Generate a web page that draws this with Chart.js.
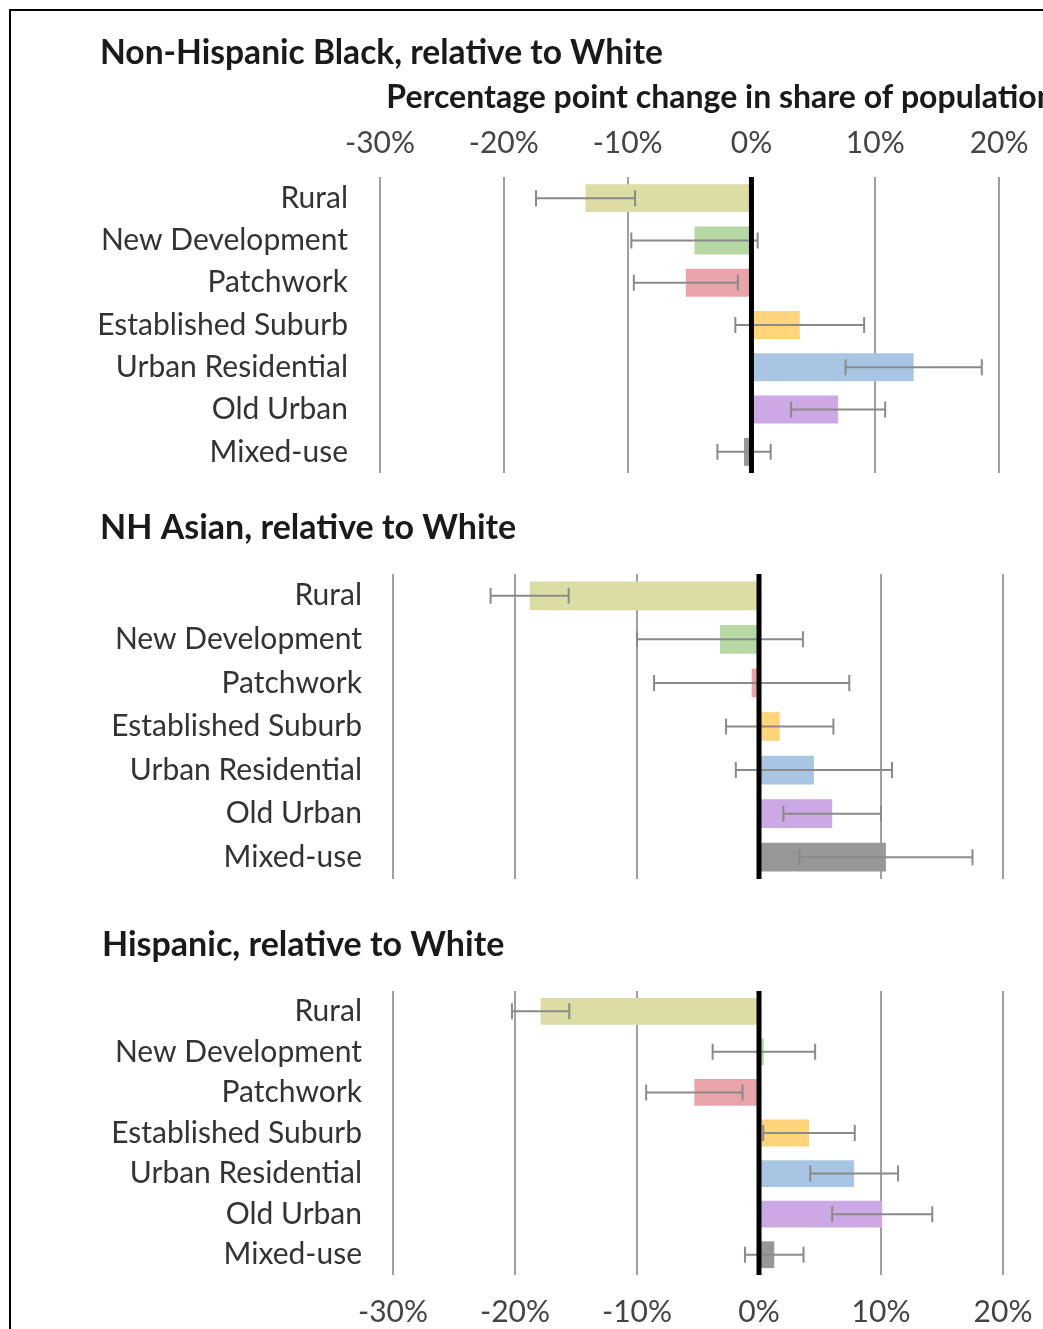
<!DOCTYPE html>
<html>
<head>
<meta charset="utf-8">
<script src="https://cdn.jsdelivr.net/npm/chart.js@4.4.1/dist/chart.umd.min.js"></script>
<style>
  html, body { margin: 0; padding: 0; background: #fff; overflow: hidden; width: 1043px; height: 1329px; }
  #frame { position: absolute; left: 9px; top: 9px; width: 1200px; height: 1400px;
           border-left: 2px solid #000; border-top: 2px solid #000; }
  .panel { position: absolute; left: 0; }
</style>
</head>
<body>
<div id="frame"></div>
<div class="panel" style="top:0; width:1061px; height:480px"><canvas id="chart-black"></canvas></div>
<div class="panel" style="top:480px; width:1064px; height:410px"><canvas id="chart-asian"></canvas></div>
<div class="panel" style="top:890px; width:1064px; height:459px"><canvas id="chart-hispanic"></canvas></div>
<script>
// neighbourhood types, top to bottom
const categories = ['Rural', 'New Development', 'Patchwork', 'Established Suburb',
  'Urban Residential', 'Old Urban', 'Mixed-use'];
const barColors = ['#dcdca5', '#b6d8a4', '#e8a4a8', '#ffd47a', '#a8c6e4', '#cca8e4', '#979797'];

// percentage point change, relative to White, and half-width of the error bars
const blackChange = [-13.4, -4.6, -5.3, 3.9, 13.1, 7.0, -0.6];
const blackErr = [4.0, 5.1, 4.2, 5.2, 5.5, 3.8, 2.15];
const asianChange = [-18.8, -3.2, -0.6, 1.7, 4.5, 6.0, 10.4];
const asianErr = [3.2, 6.8, 8.0, 4.4, 6.4, 4.0, 7.1];
const hispanicChange = [-17.9, 0.4, -5.3, 4.1, 7.8, 10.1, 1.25];
const hispanicErr = [2.35, 4.2, 3.95, 3.75, 3.6, 4.1, 2.4];

const xTicks = [-30, -20, -10, 0, 10, 20];

Chart.defaults.font.family = 'Lato';
Chart.defaults.color = '#444';

// error bars plus the heavy zero line, drawn over the bars
const errorBars = {
  id: 'errorBars',
  afterDatasetsDraw(chart, args, opts) {
    const { ctx, chartArea, scales: { x, y } } = chart;
    const values = chart.data.datasets[0].data;
    ctx.save();
    ctx.strokeStyle = '#8a8a8a';
    ctx.lineWidth = 2;
    values.forEach((v, i) => {
      const yc = y.getPixelForValue(i);
      const x1 = x.getPixelForValue(v - opts.errors[i]);
      const x2 = x.getPixelForValue(v + opts.errors[i]);
      ctx.beginPath();
      ctx.moveTo(x1, yc); ctx.lineTo(x2, yc);
      ctx.moveTo(x1, yc - 8); ctx.lineTo(x1, yc + 8);
      ctx.moveTo(x2, yc - 8); ctx.lineTo(x2, yc + 8);
      ctx.stroke();
    });
    const x0 = x.getPixelForValue(0);
    ctx.strokeStyle = '#000';
    ctx.lineWidth = 5;
    ctx.beginPath();
    ctx.moveTo(x0, chartArea.top);
    ctx.lineTo(x0, chartArea.bottom);
    ctx.stroke();
    ctx.restore();
  }
};

function makeChart(id, cfg) {
  const xAxis = {
    type: 'linear',
    position: cfg.axisPosition,
    min: -30,
    max: 25,
    afterBuildTicks: (scale) => { scale.ticks = xTicks.map(v => ({ value: v })); },
    grid: { color: '#a0a0a0', lineWidth: 2, drawTicks: false },
    border: { display: false },
    ticks: {
      display: cfg.showTicks,
      padding: cfg.tickPadding,
      font: { size: 30 },
      color: '#444',
      callback: (v) => v + '%'
    },
    title: cfg.axisTitle ? {
      display: true,
      text: cfg.axisTitle,
      font: { size: 32, weight: 'bold', lineHeight: 1 },
      color: '#1a1a1a',
      padding: { top: 12, bottom: -5 }
    } : { display: false }
  };

  return new Chart(document.getElementById(id), {
    type: 'bar',
    data: {
      labels: categories,
      datasets: [{
        data: cfg.values,
        backgroundColor: barColors,
        barPercentage: 0.66,
        categoryPercentage: 1
      }]
    },
    options: {
      indexAxis: 'y',
      responsive: true,
      maintainAspectRatio: false,
      animation: false,
      layout: { padding: { left: cfg.left, right: 0, top: 0, bottom: cfg.bottom } },
      scales: {
        x: xAxis,
        y: {
          grid: { display: false, drawTicks: false },
          border: { display: false },
          afterFit: (scale) => {
            // fixed label column; labels sit inside the rows, so no extra vertical padding
            scale.width = cfg.plotLeft - cfg.left;
            scale.paddingTop = 0;
            scale.paddingBottom = 0;
          },
          ticks: { autoSkip: false, padding: cfg.labelPadding, font: { size: 30 }, color: '#333' }
        }
      },
      plugins: {
        legend: { display: false },
        tooltip: { enabled: false },
        title: {
          display: true,
          text: cfg.title,
          align: 'start',
          color: '#1a1a1a',
          font: { size: cfg.titleSize, weight: 'bold', lineHeight: 1 },
          padding: cfg.titlePadding
        },
        errorBars: { errors: cfg.errors }
      }
    },
    plugins: [errorBars]
  });
}

makeChart('chart-black', {
  title: 'Non-Hispanic Black, relative to White', titleSize: 33.6,
  axisTitle: 'Percentage point change in share of population',
  axisPosition: 'top', showTicks: true, tickPadding: 16,
  values: blackChange, errors: blackErr,
  left: 100, plotLeft: 380, labelPadding: 32, bottom: 7,
  titlePadding: { top: 36, bottom: 0.4 }
});

makeChart('chart-asian', {
  title: 'NH Asian, relative to White', titleSize: 34,
  axisPosition: 'bottom', showTicks: false, tickPadding: 0,
  values: asianChange, errors: asianErr,
  left: 100, plotLeft: 393, labelPadding: 31, bottom: 11,
  titlePadding: { top: 31, bottom: 29 }
});

makeChart('chart-hispanic', {
  title: 'Hispanic, relative to White', titleSize: 34,
  axisPosition: 'bottom', showTicks: true, tickPadding: 19,
  values: hispanicChange, errors: hispanicErr,
  left: 102, plotLeft: 393, labelPadding: 31, bottom: 0,
  titlePadding: { top: 38, bottom: 29 }
});
</script>
</body>
</html>
